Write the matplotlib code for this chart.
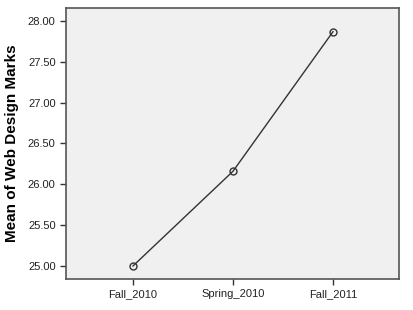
import matplotlib
matplotlib.use("Agg")
import matplotlib.pyplot as plt

categories = ["Fall_2010", "Spring_2010", "Fall_2011"]
means = [25.00, 26.16, 27.87]
yticks = [25.00, 25.50, 26.00, 26.50, 27.00, 27.50, 28.00]

plt.rcParams['font.family'] = ['Liberation Sans', 'DejaVu Sans']
fig = plt.figure(figsize=(4.13, 3.10), dpi=100)
ax = fig.add_axes([66/413, 31/310, 333/413, 271/310])
ax.set_facecolor('#f0f0f0')
x = list(range(len(categories)))
ax.plot(x, means, color='#333333', lw=1.0, marker='o', ms=5, mfc='none', mec='#333333', mew=1.0)
ax.set_xlim(-0.67, 2.66)
ax.set_ylim(24.84, 28.16)
ax.set_xticks(x)
ax.set_xticklabels(categories, fontsize=8, color='#222222')
ax.set_yticks(yticks)
ax.set_yticklabels([f"{v:.2f}" for v in yticks], fontsize=8, color='#222222')
ax.set_ylabel("Mean of Web Design Marks", fontsize=11, fontweight='bold', labelpad=6)
for s in ax.spines.values():
    s.set_color('#555555')
    s.set_linewidth(1.2)
ax.tick_params(length=4, width=1, color='#333333')
fig.savefig("out.png", dpi=100)
